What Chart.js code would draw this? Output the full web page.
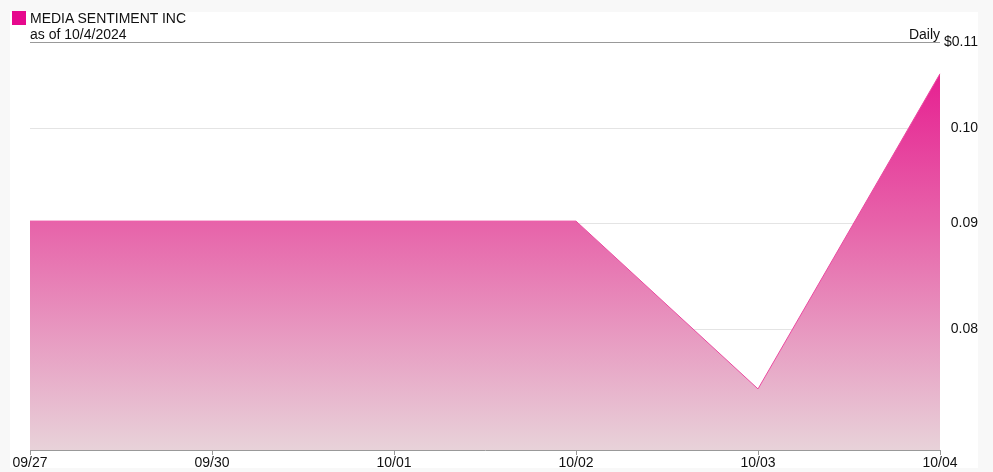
<!DOCTYPE html>
<html>
<head>
<meta charset="utf-8">
<script src="https://cdn.jsdelivr.net/npm/chart.js@4"></script>
<style>
  html, body { margin: 0; padding: 0; background: #f8f8f8; }
  #wrap { position: relative; width: 993px; height: 472px; }
  canvas { position: absolute; left: 0; top: 0; }
  .txt { position: absolute; font-family: "Liberation Sans", Arial, sans-serif; font-size: 14px; line-height: 16px; color: #111; white-space: nowrap; }
  #swatch { position: absolute; left: 12px; top: 11px; width: 14px; height: 14px; background: #e6098d; }
</style>
</head>
<body>
<div id="wrap">
  <canvas id="c" width="993" height="472"></canvas>
  <div id="swatch"></div>
  <div class="txt" style="left:30px; top:10px;">MEDIA SENTIMENT INC</div>
  <div class="txt" style="left:30px; top:26px;">as of 10/4/2024</div>
  <div class="txt" style="right:53px; top:26px; text-align:right;">Daily</div>
</div>
<script>
const categories = ['09/27', '09/30', '10/01', '10/02', '10/03', '10/04'];
const prices = [0.0902, 0.0902, 0.0902, 0.0902, 0.0749, 0.1062];
const yTicks = [0.08, 0.09, 0.10, 0.11];
const yMin = 0.07;
const yMax = 0.11;

const bgPlugin = {
  id: 'bg',
  beforeDraw(chart) {
    const c = chart.ctx;
    c.save();
    c.fillStyle = '#f8f8f8';
    c.fillRect(0, 0, chart.width, chart.height);
    c.fillStyle = '#ffffff';
    c.fillRect(10, 12, 968, 456);
    c.restore();
  }
};

new Chart(document.getElementById('c'), {
  type: 'line',
  data: {
    labels: categories,
    datasets: [{
      data: prices,
      borderColor: '#ea4a9f',
      borderWidth: 1,
      pointRadius: 0,
      tension: 0,
      fill: 'start',
      backgroundColor(ctx) {
        const area = ctx.chart.chartArea;
        if (!area) return '#e66aae';
        const g = ctx.chart.ctx.createLinearGradient(0, area.top, 0, area.bottom);
        g.addColorStop(0, '#e6128c');
        g.addColorStop(0.45, '#e764aa');
        g.addColorStop(1, '#e8d2d9');
        return g;
      }
    }]
  },
  options: {
    responsive: false,
    animation: false,
    devicePixelRatio: 1,
    layout: { padding: { left: 30, top: 42, right: 15, bottom: 0 } },
    plugins: { legend: { display: false }, tooltip: { enabled: false } },
    scales: {
      x: {
        type: 'category',
        offset: false,
        grid: { display: true, drawOnChartArea: false, drawTicks: true, tickLength: 5, color: '#999999' },
        border: { display: true, color: '#999999' },
        ticks: {
          autoSkip: false, maxRotation: 0, padding: 0,
          color: '#111', font: { family: '"Liberation Sans", Arial, sans-serif', size: 14 }
        },
        afterFit(scale) { scale.height = 22; }
      },
      y: {
        type: 'logarithmic',
        position: 'right',
        min: yMin,
        max: yMax,
        afterBuildTicks(scale) { scale.ticks = yTicks.map(v => ({ value: v })); },
        afterFit(scale) { scale.width = 38; },
        grid: {
          drawTicks: false,
          color(ctx) { return (ctx.tick && Math.abs(ctx.tick.value - 0.11) < 1e-9) ? '#999999' : '#e4e4e4'; }
        },
        border: { display: false },
        ticks: {
          padding: 0,
          crossAlign: 'far',
          color: '#111',
          font: { family: '"Liberation Sans", Arial, sans-serif', size: 14 },
          callback(v) { return Math.abs(v - 0.11) < 1e-9 ? '$0.11' : Number(v).toFixed(2); }
        }
      }
    }
  },
  plugins: [bgPlugin]
});
</script>
</body>
</html>
